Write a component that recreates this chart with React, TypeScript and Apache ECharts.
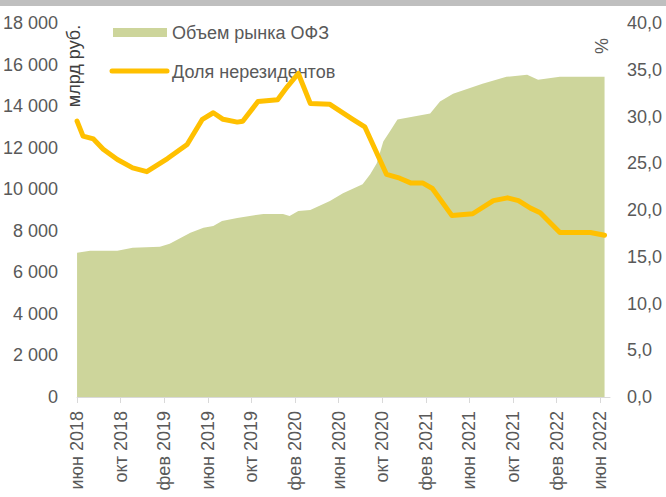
import React, { useEffect, useRef } from "react";
import * as echarts from "echarts";

// Month index: 0 = июн 2018, 48 = июн 2022
const volMonths = [0, 1.2, 3.7, 5.1, 7.6, 8.5, 10.4, 11.6, 12.5, 13.3, 14.7, 17.1, 18.9, 19.5, 20.3, 21.4, 23.2, 24.4, 26.2, 26.9, 27.5, 28.1, 28.7, 29.4, 32.4, 33.3, 34.5, 37.2, 39.4, 41.3, 42.3, 44.3, 48.4];
const volValues = [6940, 7040, 7040, 7180, 7230, 7370, 7900, 8140, 8230, 8470, 8620, 8810, 8810, 8710, 8950, 9000, 9430, 9810, 10240, 10720, 11250, 12300, 12780, 13360, 13640, 14220, 14600, 15080, 15410, 15510, 15270, 15410, 15410];

const shareMonths = [0, 0.55, 1.5, 2.4, 3.7, 5.1, 6.4, 8.3, 10.1, 11.5, 12.5, 13.4, 14.7, 15.2, 16.6, 18.4, 19.3, 20.3, 21.4, 23.2, 25.3, 26.4, 28.4, 29.6, 30.6, 31.7, 32.6, 34.4, 36.3, 38.2, 39.5, 40.5, 41.6, 42.5, 44.3, 47.1, 48.4];
const shareValues = [29.5, 27.9, 27.6, 26.5, 25.4, 24.5, 24.1, 25.5, 27.0, 29.7, 30.4, 29.7, 29.4, 29.5, 31.6, 31.8, 33.2, 34.6, 31.4, 31.3, 29.7, 28.9, 23.8, 23.4, 22.9, 22.9, 22.3, 19.4, 19.6, 21.0, 21.3, 21.0, 20.2, 19.7, 17.6, 17.6, 17.3];

const xTickMonths = [0, 4, 8, 12, 16, 20, 24, 28, 32, 36, 40, 44, 48];
const xTickLabels = ["июн 2018", "окт 2018", "фев 2019", "июн 2019", "окт 2019", "фев 2020", "июн 2020", "окт 2020", "фев 2021", "июн 2021", "окт 2021", "фев 2022", "июн 2022"];

const seriesNames = ["Объем рынка ОФЗ", "Доля нерезидентов"];
const leftUnit = "млрд руб.";
const rightUnit = "%";

const AREA = "#cdd59b";
const GOLD = "#ffc000";
const TXT = "#595959";
const FONT = "'Liberation Sans', Arial, sans-serif";

export default function App() {
  const ref = useRef<HTMLDivElement>(null);
  useEffect(() => {
    if (!ref.current) return;
    const chart = echarts.init(ref.current, undefined, { renderer: "svg" });
    const volData = volMonths.map((m, i) => [m, volValues[i]]);
    const shareData = shareMonths.map((m, i) => [m, shareValues[i]]);
    chart.setOption({
      animation: false,
      backgroundColor: "#ffffff",
      textStyle: { fontFamily: FONT },
      grid: { left: 77, right: 56, top: 23, bottom: 100, containLabel: false },
      xAxis: {
        type: "value",
        min: 0,
        max: 48.9,
        interval: 4,
        splitLine: { show: false },
        axisLine: { show: true, lineStyle: { color: "#d9d9d9", width: 1 } },
        axisTick: { show: true, length: 6, lineStyle: { color: "#d9d9d9" }, customValues: xTickMonths },
        axisLabel: {
          customValues: xTickMonths,
          rotate: 90,
          margin: 14,
          color: TXT,
          fontSize: 18,
          fontFamily: FONT,
          padding: [8, 0, 0, 0],
          formatter: (v: number) => {
            const i = xTickMonths.indexOf(Math.round(v));
            return i >= 0 && Math.abs(v - Math.round(v)) < 1e-6 ? xTickLabels[i] : "";
          },
        },
      },
      yAxis: [
        {
          type: "value",
          min: 0,
          max: 18000,
          interval: 2000,
          splitLine: { show: false },
          axisLine: { show: false },
          axisTick: { show: false },
          axisLabel: {
            margin: 19,
            color: TXT,
            fontSize: 18,
            fontFamily: FONT,
            formatter: (v: number) => {
              const s = String(Math.round(v));
              return s.length > 3 ? s.slice(0, s.length - 3) + " " + s.slice(-3) : s;
            },
          },
        },
        {
          type: "value",
          min: 0,
          max: 40,
          interval: 5,
          position: "right",
          splitLine: { show: false },
          axisLine: { show: false },
          axisTick: { show: false },
          axisLabel: {
            margin: 17,
            color: TXT,
            fontSize: 18,
            fontFamily: FONT,
            formatter: (v: number) => v.toFixed(1).replace(".", ","),
          },
        },
      ],
      series: [
        {
          name: seriesNames[0],
          type: "line",
          yAxisIndex: 0,
          data: volData,
          showSymbol: false,
          symbol: "none",
          lineStyle: { width: 0, color: AREA },
          areaStyle: { color: AREA, opacity: 1 },
          z: 1,
        },
        {
          name: seriesNames[1],
          type: "line",
          yAxisIndex: 1,
          data: shareData,
          showSymbol: false,
          symbol: "none",
          lineStyle: { width: 5, color: GOLD, join: "round", cap: "round" },
          z: 3,
        },
      ],
      graphic: [
        { type: "rect", left: 0, top: 0, shape: { width: 666, height: 6 }, style: { fill: "#bfbfbf" }, silent: true },
        { type: "rect", shape: { x: 113, y: 28, width: 54, height: 9 }, style: { fill: AREA } },
        { type: "line", shape: { x1: 112, y1: 71, x2: 167, y2: 71 }, style: { stroke: GOLD, lineWidth: 5, lineCap: "round" } },
        { type: "text", x: 172, y: 33, style: { text: seriesNames[0], fill: TXT, font: `18px ${FONT}`, verticalAlign: "middle", align: "left" } },
        { type: "text", x: 172, y: 72, style: { text: seriesNames[1], fill: TXT, font: `18px ${FONT}`, verticalAlign: "middle", align: "left" } },
        { type: "text", x: 74, y: 66, rotation: Math.PI / 2, style: { text: leftUnit, fill: "#404040", font: `18px ${FONT}`, verticalAlign: "middle", align: "center" } },
        { type: "text", x: 602, y: 46, rotation: Math.PI / 2, style: { text: rightUnit, fill: TXT, font: `18px ${FONT}`, verticalAlign: "middle", align: "center" } },
      ],
    });
    return () => chart.dispose();
  }, []);
  return (
    <div
      ref={ref}
      style={{ position: "fixed", left: 0, top: 0, width: 666, height: 497, background: "#fff" }}
    />
  );
}
